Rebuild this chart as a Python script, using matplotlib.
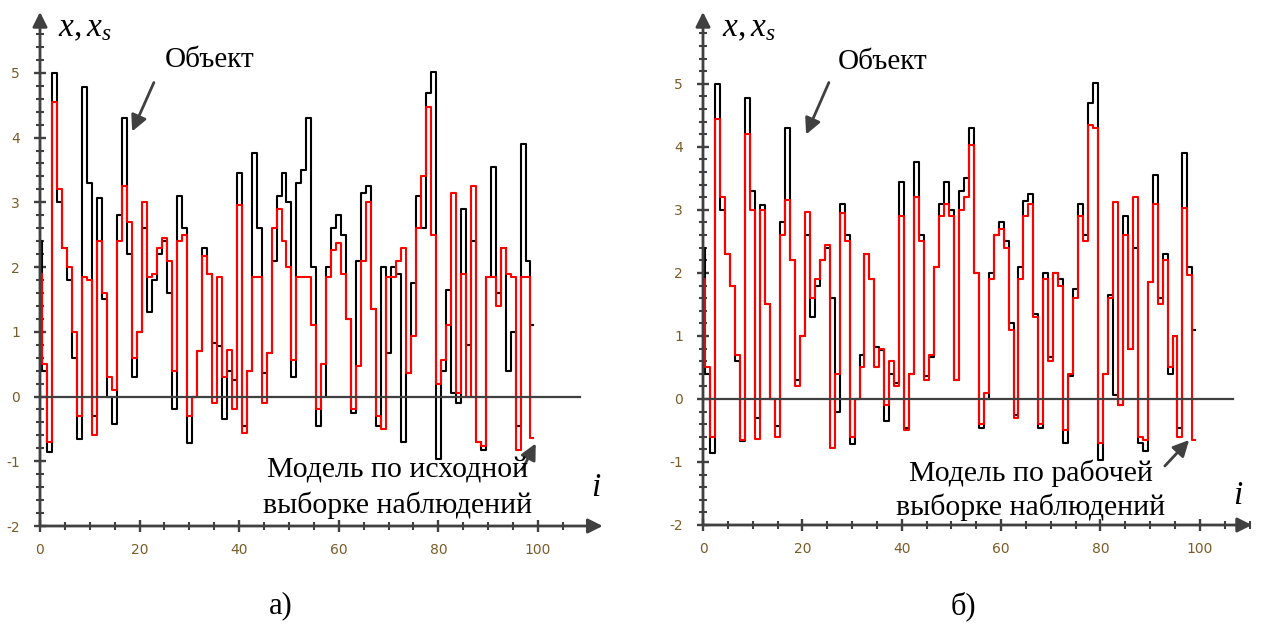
import matplotlib
matplotlib.use('Agg')
import matplotlib.pyplot as plt
from matplotlib.ticker import MultipleLocator, FixedLocator

# данные: объект и две модели
obj = [2.4, 0.4, -0.85, 5.0, 3.0, 2.3, 1.8, 0.6, -0.66, 4.78,
       3.3, -0.3, 3.07, 1.5, 0.0, -0.43, 2.8, 4.3, 2.2, 0.3,
       1.0, 2.6, 1.3, 1.8, 2.2, 2.4, 1.6, -0.2, 3.1, 2.6,
       -0.72, 0.0, 0.7, 2.3, 1.9, 0.83, 0.78, -0.35, 0.4, 0.26,
       3.45, -0.46, 0.4, 3.76, 2.6, 0.37, 0.67, 2.1, 3.1, 3.45,
       3.0, 0.3, 3.3, 3.5, 4.3, 2.0, -0.46, 0.0, 2.0, 2.6,
       2.8, 2.5, 1.2, -0.25, 2.1, 3.14, 3.25, 1.35, -0.46, 2.0,
       0.67, 2.0, 1.9, -0.7, 0.37, 1.75, 3.1, 2.6, 4.69, 5.02,
       -0.97, 0.4, 1.65, 0.06, -0.1, 2.9, 0.8, 2.4, -0.7, -0.82,
       1.85, 3.55, 1.6, 2.3, 0.4, 1.0, -0.46, 3.9, 2.1, 1.1]
model_a = [1.9, 0.5, -0.7, 4.55, 3.2, 2.3, 2.0, 1.0, -0.3, 1.85,
           1.8, -0.6, 2.4, 1.6, 0.3, 0.1, 2.4, 3.25, 2.7, 0.6,
           1.0, 3.0, 1.85, 1.9, 2.3, 2.45, 2.1, 0.4, 2.4, 2.5,
           -0.3, 0.0, 0.7, 2.17, 1.9, -0.1, 1.85, 0.3, 0.72, -0.2,
           2.96, -0.56, 0.4, 1.85, 1.85, -0.1, 0.67, 2.6, 2.9, 2.4,
           2.0, 0.57, 1.85, 1.85, 1.85, 1.1, -0.2, 0.5, 1.85, 2.27,
           2.37, 1.9, 1.2, -0.2, 0.47, 2.1, 3.0, 1.35, -0.3, -0.5,
           1.85, 1.85, 2.1, 2.3, 0.37, 0.94, 2.6, 3.4, 4.48, 2.5,
           0.2, 0.57, 1.1, 3.14, 0.06, 1.9, 0.0, 3.25, -0.7, -0.77,
           1.85, 1.85, 1.4, 2.3, 1.9, 1.85, -0.82, 1.85, 1.85, -0.64]
model_b = [1.9, 0.5, -0.6, 4.45, 3.2, 2.3, 1.8, 0.7, -0.65, 4.2,
           3.0, -0.63, 3.0, 1.5, 0.0, -0.6, 2.6, 3.15, 2.2, 0.2,
           1.0, 2.97, 1.6, 1.9, 2.2, 2.45, -0.78, 0.4, 2.95, 2.5,
           -0.6, 0.0, 0.5, 2.3, 1.9, 0.5, 0.8, -0.1, 0.6, 0.2,
           2.9, -0.5, 0.4, 3.2, 2.5, 0.3, 0.7, 2.1, 2.9, 3.1,
           2.9, 0.3, 3.0, 3.2, 4.03, 2.0, -0.4, 0.1, 1.9, 2.6,
           2.7, 2.4, 1.1, -0.3, 1.9, 2.9, 3.1, 1.3, -0.4, 1.9,
           0.6, 2.0, 1.8, -0.5, 0.4, 1.6, 2.9, 2.5, 4.35, 4.3,
           -0.7, 0.4, 1.6, 3.13, -0.1, 2.6, 0.8, 3.2, -0.6, -0.65,
           1.85, 3.1, 1.5, 2.2, 0.5, 1.0, -0.6, 3.03, 1.97, -0.65]
idx = list(range(len(obj)))

y_ticks = [-2, -1, 0, 1, 2, 3, 4, 5]
x_ticks = [0, 20, 40, 60, 80, 100]

plt.rcParams['mathtext.fontset'] = 'custom'
plt.rcParams['mathtext.rm'] = 'Liberation Serif'
plt.rcParams['mathtext.it'] = 'Liberation Serif:italic'
plt.rcParams['axes.unicode_minus'] = False

W, H = 1261, 630
fig = plt.figure(figsize=(W / 100, H / 100), dpi=100)
grey = '#404040'
lblc = '#7a5c28'
serif = 'Liberation Serif'


def panel(rect, xmax, ymax, zero_end, model):
    ax = fig.add_axes(rect)
    ax.plot(idx, obj, color='black', lw=1.5, drawstyle='steps-mid', zorder=2)
    ax.plot(idx, model, color='red', lw=1.5, drawstyle='steps-mid', zorder=3)
    ax.plot([0, zero_end], [0, 0], color=grey, lw=1.6, zorder=4)
    ax.set_xlim(0, xmax)
    ax.set_ylim(-2, ymax)
    for s in ['top', 'right', 'left', 'bottom']:
        ax.spines[s].set_visible(False)
    # оси со стрелками
    ax.annotate('', xy=(xmax, -2), xytext=(0, -2), xycoords='data',
                arrowprops=dict(arrowstyle='-|>', color=grey, lw=2, mutation_scale=22,
                                shrinkA=0, shrinkB=0), annotation_clip=False)
    ax.annotate('', xy=(0, ymax), xytext=(0, -2), xycoords='data',
                arrowprops=dict(arrowstyle='-|>', color=grey, lw=2, mutation_scale=22,
                                shrinkA=0, shrinkB=0), annotation_clip=False)
    ax.xaxis.set_major_locator(FixedLocator(x_ticks))
    ax.xaxis.set_minor_locator(MultipleLocator(5))
    ax.yaxis.set_major_locator(FixedLocator(y_ticks))
    ax.yaxis.set_minor_locator(FixedLocator([v / 5 for v in range(-10, int(ymax * 5))]))
    ax.tick_params(which='major', direction='inout', length=9, width=1.7, color=grey,
                   labelsize=10, labelcolor=lblc, pad=8)
    ax.tick_params(which='minor', direction='inout', length=6, width=1.5, color=grey)
    ax.tick_params(axis='y', which='major', pad=10)
    return ax


ax1 = panel([40 / W, 1 - 526 / H, 562.7 / W, 514 / H], 113, 5.94, 108.4, model_a)
ax2 = panel([703 / W, 1 - 525 / H, 549 / W, 513 / H], 110.5, 6.14, 106.6, model_b)


def ftxt(x, y, s, size, **kw):
    fig.text(x / W, 1 - y / H, s, fontsize=size, family=serif, **kw)


def farrow(x0, y0, x1, y1):
    fig.add_artist(matplotlib.patches.FancyArrowPatch(
        (x0 / W, 1 - y0 / H), (x1 / W, 1 - y1 / H), transform=fig.transFigure,
        arrowstyle='-|>', mutation_scale=24, color=grey, lw=2))


# подписи осей
ftxt(58, 28, r'$x, x_s$', 24, va='center', ha='left')
ftxt(722, 28, r'$x, x_s$', 24, va='center', ha='left')
ftxt(596, 488, r'$i$', 24, va='center', ha='center')
ftxt(1238, 496, r'$i$', 24, va='center', ha='center')

# надписи
ftxt(210, 60, 'Объект', 21, ha='center', va='center')
ftxt(883, 62, 'Объект', 21, ha='center', va='center')
farrow(155, 80, 131, 134)
farrow(830, 80, 805, 137)

ftxt(398, 488, 'Модель по исходной\nвыборке наблюдений', 21.5, ha='center', va='center',
     linespacing=1.35)
ftxt(1031, 490, 'Модель по рабочей\nвыборке наблюдений', 21.5, ha='center', va='center',
     linespacing=1.3)
farrow(521, 472, 537, 441)
farrow(1163, 468, 1191, 438)

ftxt(281, 606, 'а)', 22, ha='center', va='center')
ftxt(963, 606, 'б)', 22, ha='center', va='center')

fig.savefig('out.png', dpi=100)
